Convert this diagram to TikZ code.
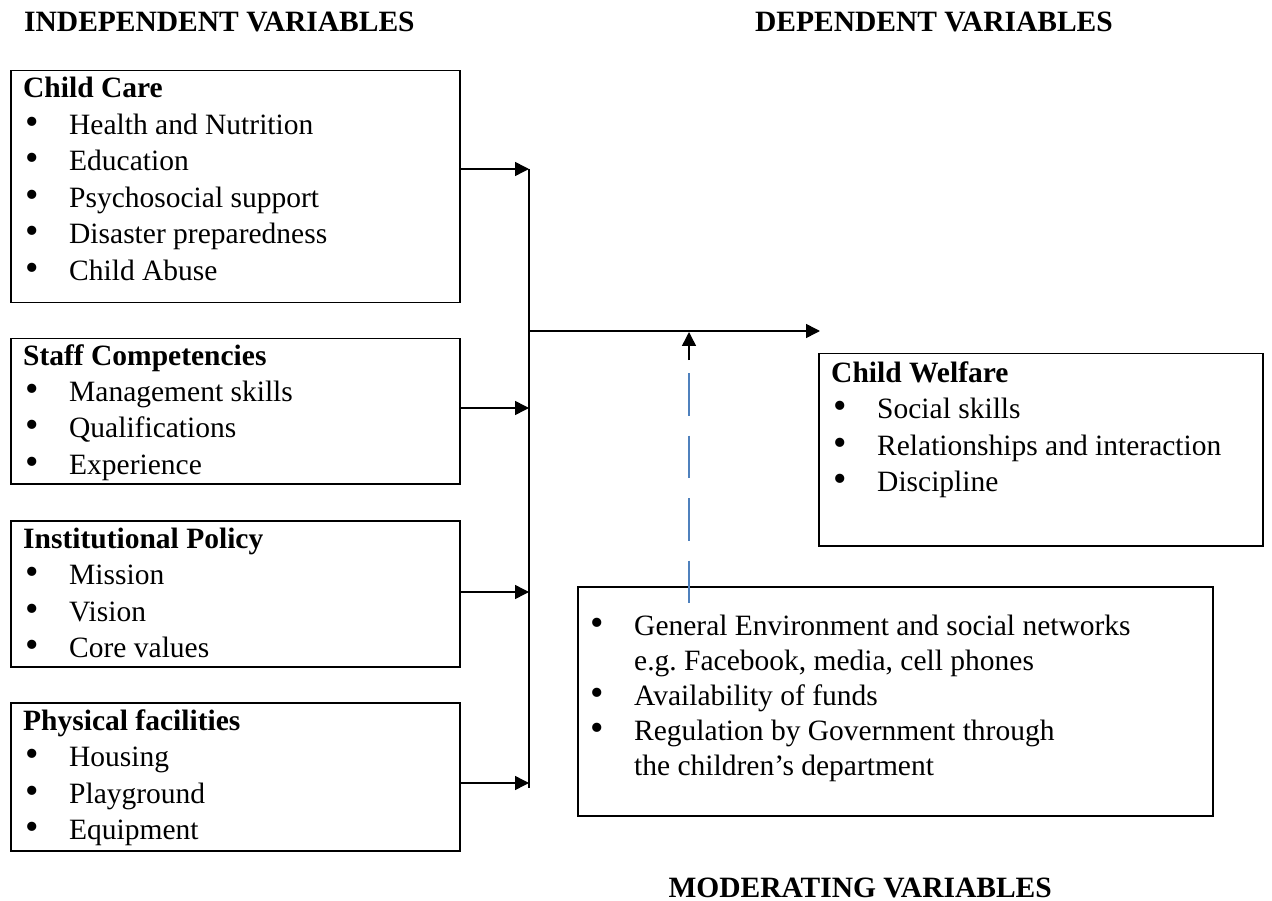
\documentclass[tikz,border=0pt]{standalone}
\usepackage{fontspec}
\setmainfont{Liberation Serif}
\usetikzlibrary{arrows.meta}
\newcommand{\bigbul}{\scalebox{1.3}{\textbullet}}
\newcommand{\itm}[1]{\makebox[46pt][l]{\hspace{2pt}\bigbul}#1}
\newcommand{\cnt}[1]{\makebox[46pt][l]{}#1}
\definecolor{dashblue}{RGB}{79,129,189}
\begin{document}
\begin{tikzpicture}[x=1pt,y=-1pt,
  box/.style={draw, line width=1.5pt, inner sep=0pt, anchor=north west},
  txt/.style={inner sep=0pt, anchor=base west, font=\fontsize{29.5}{36.5}\selectfont},
  ttl/.style={inner sep=0pt, font=\fontsize{29.5}{36.5}\selectfont\bfseries},
  ln/.style={line width=1.5pt},
  arr/.style={line width=1.5pt, -{Triangle[length=14pt,width=14pt]}},
  dsh/.style={line width=1.2pt, dashblue, dash pattern=on 42.5pt off 20pt}]
\useasboundingbox (0,0) rectangle (1272,901);

% titles
\node[ttl, anchor=base west] (t1) at (24,32) {INDEPENDENT VARIABLES};
\node[ttl, anchor=base east] (t2) at (1113,32) {DEPENDENT VARIABLES};
\node[ttl, anchor=base east] (t3) at (1052,897) {MODERATING VARIABLES};

% left boxes
\node[box, minimum width=449pt, minimum height=232pt] (cc) at (10,70) {};
\node[txt] (cctext) at (23,98) {\begin{tabular}[t]{@{}l@{}}
\textbf{Child Care}\\
\itm{Health and Nutrition}\\
\itm{Education}\\
\itm{Psychosocial support}\\
\itm{Disaster preparedness}\\
\itm{Child Abuse}
\end{tabular}};

\node[box, minimum width=449pt, minimum height=145pt] (st) at (10,338) {};
\node[txt] (sttext) at (23,365) {\begin{tabular}[t]{@{}l@{}}
\textbf{Staff Competencies}\\
\itm{Management skills}\\
\itm{Qualifications}\\
\itm{Experience}
\end{tabular}};

\node[box, minimum width=449pt, minimum height=146pt] (ip) at (10,520) {};
\node[txt] (iptext) at (23,548) {\begin{tabular}[t]{@{}l@{}}
\textbf{Institutional Policy}\\
\itm{Mission}\\
\itm{Vision}\\
\itm{Core values}
\end{tabular}};

\node[box, minimum width=449pt, minimum height=148pt] (pf) at (10,702) {};
\node[txt] (pftext) at (23,730) {\begin{tabular}[t]{@{}l@{}}
\textbf{Physical facilities}\\
\itm{Housing}\\
\itm{Playground}\\
\itm{Equipment}
\end{tabular}};

% right boxes
\node[box, minimum width=444pt, minimum height=192pt] (cw) at (818,353) {};
\node[txt] (cwtext) at (831,382) {\begin{tabular}[t]{@{}l@{}}
\textbf{Child Welfare}\\
\itm{Social skills}\\
\itm{Relationships and interaction}\\
\itm{Discipline}
\end{tabular}};

\node[box, minimum width=635pt, minimum height=229pt] (mv) at (577,586) {};
\node[txt, font=\fontsize{29.5}{35}\selectfont] (mvtext) at (588,635) {\begin{tabular}[t]{@{}l@{}}
\itm{General Environment and social networks}\\
\cnt{e.g.\ Facebook, media, cell phones}\\
\itm{Availability of funds}\\
\itm{Regulation by Government through}\\
\cnt{the children’s department}
\end{tabular}};

% connectors
\coordinate (vtop) at (529,169);
\coordinate (vbot) at (529,788);
\coordinate (j2) at (529,408);
\coordinate (j3) at (529,592);
\coordinate (j4) at (529,783);
\coordinate (jm) at (529,331);
\coordinate (mend) at (820,331);
\draw[ln] (vtop) -- (vbot);
\draw[arr] (cc.east |- vtop) -- (vtop);
\draw[arr] (st.east |- j2) -- (j2);
\draw[arr] (ip.east |- j3) -- (j3);
\draw[arr] (pf.east |- j4) -- (j4);
\draw[arr] (jm) -- (mend);

\coordinate (dtip) at (689,332);
\coordinate (dstub) at (689,360);
\coordinate (dstart) at (689,373);
\coordinate (dend) at (689,603);
\draw[arr] (dstub) -- (dtip);
\draw[dsh] (dstart) -- (dend);
\end{tikzpicture}
\end{document}
